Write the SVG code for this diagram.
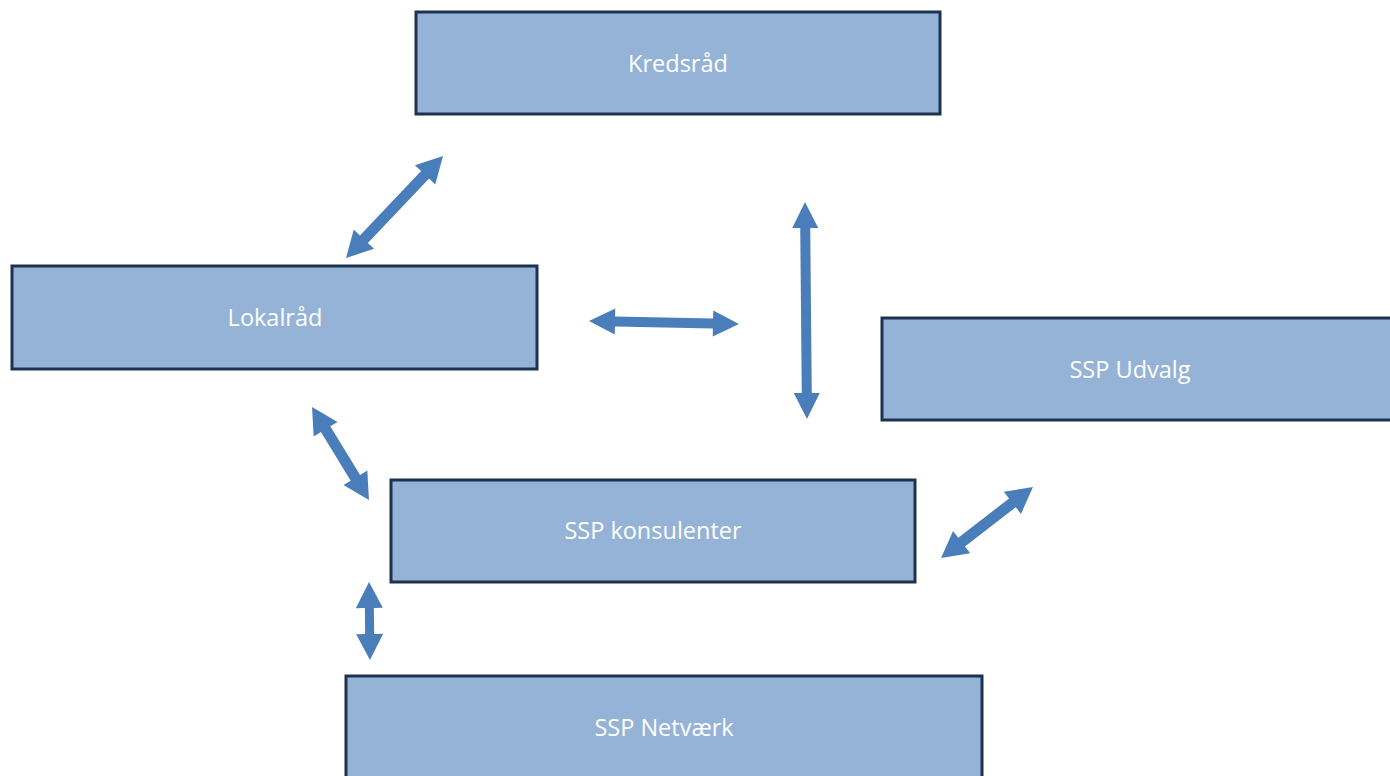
<svg xmlns="http://www.w3.org/2000/svg" width="1390" height="776" viewBox="0 0 1390 776">
<style>
.box{fill:#95b3d7;stroke:#1c324f;stroke-width:3}
.lbl{fill:#ffffff;font-family:"Open Sans","Liberation Sans",Arial,sans-serif;font-size:23.5px;text-anchor:middle;dominant-baseline:central}
.arr{fill:#4a7ebb}
</style>
<rect width="1390" height="776" fill="#ffffff"/>
<g id="kredsraad"><rect class="box" x="416" y="12" width="524" height="102"/><text class="lbl" x="678" y="63">Kredsråd</text></g>
<g id="lokalraad"><rect class="box" x="12" y="266" width="525" height="103"/><text class="lbl" x="275" y="317">Lokalråd</text></g>
<g id="ssp-udvalg"><rect class="box" x="882" y="318" width="520" height="102"/><text class="lbl" x="1130" y="369">SSP Udvalg</text></g>
<g id="ssp-konsulenter"><rect class="box" x="391" y="480" width="524" height="102"/><text class="lbl" x="653" y="530">SSP konsulenter</text></g>
<g id="ssp-netvaerk"><rect class="box" x="346" y="676" width="636" height="110"/><text class="lbl" x="664" y="727">SSP Netværk</text></g>
<g id="connectors">
<polygon class="arr" transform="translate(394.5,207) rotate(-46.45)" points="-70.4,0 -44.4,-14 -44.4,-5.5 44.4,-5.5 44.4,-14 70.4,0 44.4,14 44.4,5.5 -44.4,5.5 -44.4,14"/>
<polygon class="arr" transform="translate(664,322.5) rotate(1.15)" points="-75,0 -49,-13 -49,-5 49,-5 49,-13 75,0 49,13 49,5 -49,5 -49,13"/>
<polygon class="arr" transform="translate(806,310.5) rotate(89.47)" points="-108.5,0 -82.5,-13 -82.5,-5 82.5,-5 82.5,-13 108.5,0 82.5,13 82.5,5 -82.5,5 -82.5,13"/>
<polygon class="arr" transform="translate(340.5,453.5) rotate(58.5)" points="-54.5,0 -28.5,-14 -28.5,-5.5 28.5,-5.5 28.5,-14 54.5,0 28.5,14 28.5,5.5 -28.5,5.5 -28.5,14"/>
<polygon class="arr" transform="translate(987,522.5) rotate(-37.7)" points="-58.1,0 -32.1,-14 -32.1,-5.5 32.1,-5.5 32.1,-14 58.1,0 32.1,14 32.1,5.5 -32.1,5.5 -32.1,14"/>
<polygon class="arr" transform="translate(369.5,621) rotate(89.3)" points="-39,0 -13,-13.5 -13,-4.5 13,-4.5 13,-13.5 39,0 13,13.5 13,4.5 -13,4.5 -13,13.5"/>
</g>
</svg>
